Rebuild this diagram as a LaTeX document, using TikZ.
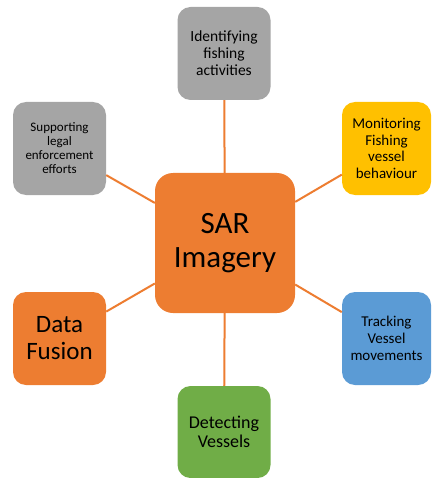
\documentclass[tikz,border=0pt]{standalone}
\usepackage{fontspec}
\setmainfont{Carlito}
\usetikzlibrary{positioning}
\definecolor{officeorange}{RGB}{237,125,49}
\definecolor{officegrey}{RGB}{165,165,165}
\definecolor{officegold}{RGB}{255,192,0}
\definecolor{officeblue}{RGB}{91,155,213}
\definecolor{officegreen}{RGB}{112,173,71}

\begin{document}
\begin{tikzpicture}[x=1pt, y=-1pt]
    % Styles
    \tikzstyle{leaf} = [rectangle, rounded corners=13pt, minimum width=93pt, minimum height=93pt, inner sep=2pt, align=center, text=black]
    \tikzstyle{hub} = [rectangle, rounded corners=18pt, minimum width=140pt, minimum height=140pt, fill=officeorange, align=center, text=black]
    \tikzstyle{spoke} = [draw=officeorange, line width=2pt]

    \useasboundingbox (0,0) rectangle (431,478);

    % Nodes
    \node (sar) [hub, font=\fontsize{31}{34}\selectfont] at (225,243) {SAR\\Imagery};
    \node (identify) [leaf, fill=officegrey, font=\fontsize{15.5}{17}\selectfont] at (224,53.5) {Identifying\\fishing\\activities};
    \node (monitor) [leaf, fill=officegold, minimum width=89pt, font=\fontsize{15}{16.7}\selectfont] at (386.5,148.5) {Monitoring\\Fishing\\vessel\\behaviour};
    \node (track) [leaf, fill=officeblue, minimum width=89pt, font=\fontsize{15}{16.7}\selectfont] at (386.5,338.5) {Tracking\\Vessel\\movements};
    \node (detect) [leaf, fill=officegreen, minimum height=92pt, font=\fontsize{18}{19.5}\selectfont] at (224,432) {Detecting\\Vessels};
    \node (fusion) [leaf, fill=officeorange, font=\fontsize{25}{27}\selectfont] at (59.5,338.5) {Data\\Fusion};
    \node (support) [leaf, fill=officegrey, font=\fontsize{13}{14}\selectfont] at (59.5,148.5) {Supporting\\legal\\enforcement\\efforts};

    % Connections
    \draw[spoke] (sar) -- (identify);
    \draw[spoke] (sar) -- (monitor);
    \draw[spoke] (sar) -- (track);
    \draw[spoke] (sar) -- (detect);
    \draw[spoke] (sar) -- (fusion);
    \draw[spoke] (sar) -- (support);
\end{tikzpicture}
\end{document}
